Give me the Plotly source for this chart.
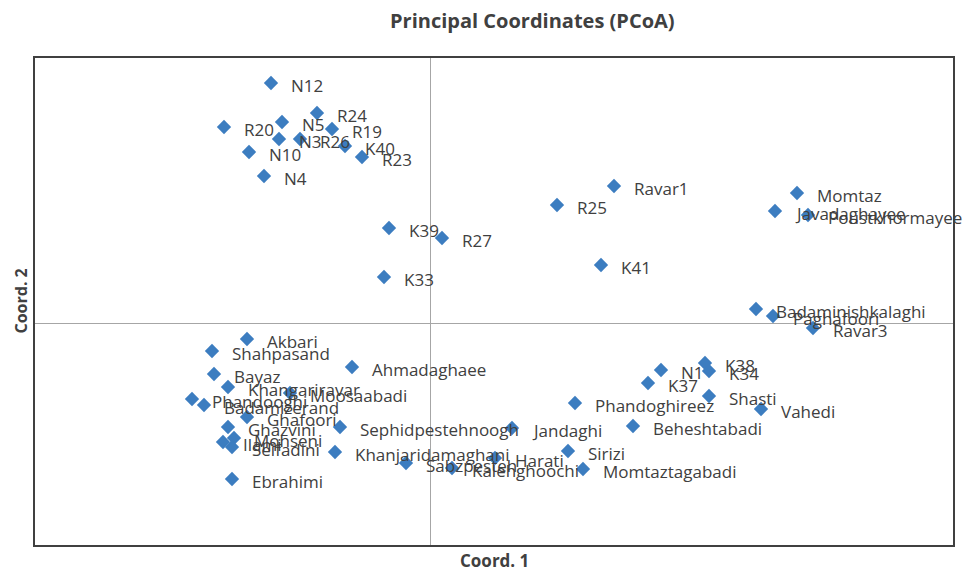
import plotly.graph_objects as go

# PCoA scores (arbitrary units)
names = ["N12", "R24", "N5", "R20", "R19", "N3", "R26", "K40", "N10", "R23", "N4",
         "Ravar1", "R25", "K39", "R27", "K41", "K33",
         "Momtaz", "Javadaghayee", "Poustkhormayee", "Badaminishkalaghi", "Paghafoori", "Ravar3",
         "Akbari", "Shahpasand", "Ahmadaghaee", "Bayaz", "Khangariravar", "Moosaabadi",
         "Phandooghi", "Badamizerand", "Ghafoori", "Ghazvini", "Ilami", "Mohseni", "Seifadini",
         "Ebrahimi", "Sephidpestehnoogh", "Khanjaridamaghani", "Sabzpesteh", "Kalehghoochi",
         "Harati", "Jandaghi", "Sirizi", "Momtaztagabadi", "Phandoghireez", "Beheshtabadi",
         "K37", "N1", "K38", "K34", "Shasti", "Vahedi"]
coord1 = [-0.159, -0.113, -0.148, -0.206, -0.098, -0.151, -0.130, -0.085, -0.181, -0.068, -0.166,
          0.184, 0.127, -0.041, 0.012, 0.171, -0.046,
          0.367, 0.345, 0.378, 0.326, 0.343, 0.383,
          -0.183, -0.218, -0.078, -0.216, -0.202, -0.140,
          -0.238, -0.226, -0.183, -0.202, -0.207, -0.196, -0.198,
          -0.198, -0.090, -0.095, -0.024, 0.022,
          0.065, 0.082, 0.138, 0.153, 0.145, 0.203,
          0.218, 0.231, 0.275, 0.279, 0.279, 0.331]
coord2 = [0.240, 0.210, 0.201, 0.196, 0.194, 0.184, 0.184, 0.177, 0.171, 0.166, 0.147,
          0.137, 0.118, 0.095, 0.085, 0.058, 0.046,
          0.130, 0.112, 0.108, 0.014, 0.007, -0.005,
          -0.016, -0.028, -0.044, -0.051, -0.064, -0.070,
          -0.076, -0.082, -0.094, -0.104, -0.119, -0.115, -0.124,
          -0.156, -0.104, -0.129, -0.140, -0.145,
          -0.135, -0.105, -0.128, -0.146, -0.080, -0.103,
          -0.060, -0.047, -0.040, -0.048, -0.073, -0.086]

x_range = [-0.395, 0.523]
y_range = [-0.222, 0.265]

fig = go.Figure()
fig.add_trace(go.Scatter(
    x=coord1, y=coord2, mode="markers",
    marker=dict(symbol="diamond", size=11, color="#3C7DC0", line=dict(width=0)),
    hoverinfo="text", text=names, showlegend=False))

for n, xv, yv in zip(names, coord1, coord2):
    fig.add_annotation(x=xv, y=yv, text=n, showarrow=False, xanchor="left",
                       yanchor="middle", xshift=18, yshift=-2,
                       font=dict(family="Open Sans", size=17, color="#404040"))

# axis titles
fig.add_annotation(x=0.5, y=0, xref="paper", yref="paper", yshift=-15,
                   text="<b>Coord. 1</b>", showarrow=False, xanchor="center", yanchor="middle",
                   font=dict(family="Open Sans", size=17, color="#404040"))
fig.add_annotation(x=0, y=0.5, xref="paper", yref="paper", xshift=-15, yshift=0,
                   text="<b>Coord. 2</b>", showarrow=False, textangle=-90,
                   xanchor="center", yanchor="middle",
                   font=dict(family="Open Sans", size=16, color="#404040"))

fig.update_layout(
    width=971, height=571,
    margin=dict(l=27, r=26, t=50, b=34, autoexpand=False),
    paper_bgcolor="white", plot_bgcolor="white",
    font=dict(family="Open Sans", color="#404040"),
    title=dict(text="<b>Principal Coordinates (PCoA)</b>", x=0.54, xanchor="center",
               xref="container", y=0.978, yanchor="middle",
               font=dict(size=20, color="#404040")),
    xaxis=dict(range=x_range, showticklabels=False, ticks="", showgrid=False,
               zeroline=True, zerolinecolor="#a6a6a6", zerolinewidth=1, automargin=False,
               showline=True, linecolor="#404040", linewidth=2, mirror=True),
    yaxis=dict(range=y_range, showticklabels=False, ticks="", showgrid=False,
               zeroline=True, zerolinecolor="#a6a6a6", zerolinewidth=1, automargin=False,
               showline=True, linecolor="#404040", linewidth=2, mirror=True),
)

fig.write_html("out.html")
